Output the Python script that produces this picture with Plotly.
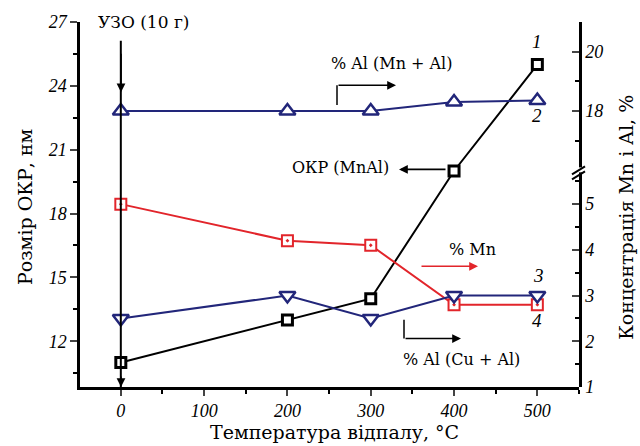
import plotly.graph_objects as go

# ---- data ----
temps = [0, 200, 300, 400, 500]
okr_size = [11.0, 13.0, 14.0, 20.0, 25.0]        # curve 1, left axis (nm)
al_mn_al = [18.0, 18.0, 18.0, 18.3, 18.35]        # curve 2, right upper axis (%)
al_cu_al = [2.5, 3.0, 2.5, 3.0, 3.0]              # curve 3, right lower axis (%)
mn_conc = [5.0, 4.2, 4.1, 2.8, 2.8]               # curve 4, right lower axis (%)

x_ticks = [0, 100, 200, 300, 400, 500]
left_ticks = [12, 15, 18, 21, 24, 27]
right_low_ticks = [1, 2, 3, 4, 5]
right_up_ticks = [18, 20]

NAVY = "#22267a"
RED = "#e2252b"
FONT = "DejaVu Serif"
IFONT = "Liberation Serif"

# plot-area geometry (pixels) used only to place annotations
L, R, T, B = 80, 579, 18, 387
X0, X1 = -49, 550
Y0, Y1 = 9.85, 27


def xd(px):
    return X0 + (px - L) / (R - L) * (X1 - X0)


def yd(py):
    return Y1 - (py - T) / (B - T) * (Y1 - Y0)


def xp(px):
    return (px - L) / (R - L)


def yp(py):
    return (B - py) / (B - T)


brk = yp(167)

fig = go.Figure()

fig.add_trace(go.Scatter(
    x=temps, y=al_mn_al, yaxis="y3", mode="lines+markers",
    line=dict(color=NAVY, width=2),
    marker=dict(symbol="triangle-up", size=14, color="white",
                line=dict(color=NAVY, width=2.5)),
    showlegend=False))
fig.add_trace(go.Scatter(
    x=temps, y=mn_conc, yaxis="y2", mode="lines+markers",
    line=dict(color=RED, width=2),
    marker=dict(symbol="square-dot", size=11, color="white",
                line=dict(color=RED, width=2)),
    showlegend=False))
fig.add_trace(go.Scatter(
    x=temps, y=al_cu_al, yaxis="y2", mode="lines+markers",
    line=dict(color=NAVY, width=2),
    marker=dict(symbol="triangle-down", size=14, color="white",
                line=dict(color=NAVY, width=2.5)),
    showlegend=False))
fig.add_trace(go.Scatter(
    x=temps, y=okr_size, yaxis="y", mode="lines+markers",
    line=dict(color="black", width=2),
    marker=dict(symbol="square", size=10, color="white",
                line=dict(color="black", width=3)),
    showlegend=False))

tickfont = dict(family=IFONT, size=18, color="black", style="italic")

fig.update_layout(
    width=640, height=446,
    margin=dict(l=L, r=640 - R, t=T, b=446 - B),
    paper_bgcolor="white", plot_bgcolor="rgba(0,0,0,0)",
    font=dict(family=FONT, size=15, color="black"),
    xaxis=dict(range=[X0, X1], tickvals=x_ticks, ticks="outside", ticklen=6,
               tickwidth=2, showline=True, linecolor="black", linewidth=2.5,
               showgrid=False, zeroline=False, tickfont=tickfont,
               minor=dict(dtick=50, tick0=0, ticks="outside", ticklen=4,
                          tickwidth=2, tickcolor="black")),
    yaxis=dict(range=[Y0, Y1], tickvals=left_ticks, ticks="outside", ticklen=7,
               tickwidth=2, showline=True, linecolor="black", linewidth=2.5,
               showgrid=False, zeroline=False, tickfont=tickfont,
               minor=dict(dtick=1.5, tick0=0, ticks="outside", ticklen=4,
                          tickwidth=2, tickcolor="black")),
    yaxis2=dict(domain=[0, brk], range=[1, 5.76], anchor="x", side="right",
                tickvals=right_low_ticks, ticks="inside", ticklen=7, tickwidth=2,
                showline=True, linecolor="black", linewidth=2.5, showgrid=False,
                zeroline=False, tickfont=tickfont,
                minor=dict(dtick=0.5, tick0=0, ticks="inside", ticklen=4,
                           tickwidth=2, tickcolor="black")),
    yaxis3=dict(domain=[brk, 1], range=[16.03, 21], anchor="x", side="right",
                tickvals=right_up_ticks, ticks="inside", ticklen=7, tickwidth=2,
                showline=True, linecolor="black", linewidth=2.5, showgrid=False,
                zeroline=False, tickfont=tickfont,
                minor=dict(dtick=1, tick0=0, ticks="inside", ticklen=4,
                           tickwidth=2, tickcolor="black")),
)

shapes = [
    # УЗО vertical line
    dict(type="line", xref="x", yref="y", x0=0, x1=0, y0=yd(37), y1=Y0,
         line=dict(color="black", width=2), layer="above"),
    # bent arrow stems
    dict(type="line", xref="x", yref="y", x0=xd(337), x1=xd(337), y0=yd(102), y1=yd(82),
         line=dict(color="black", width=1.5)),
    dict(type="line", xref="x", yref="y", x0=xd(404), x1=xd(404), y0=yd(319), y1=yd(338),
         line=dict(color="black", width=1.5)),
    # axis break marks
    dict(type="rect", xref="paper", yref="paper", x0=xp(576), x1=xp(582), y0=yp(170), y1=yp(165),
         fillcolor="white", line=dict(width=0)),
    dict(type="line", xref="paper", yref="paper", x0=xp(572), x1=xp(585), y0=yp(172), y1=yp(164),
         line=dict(color="black", width=2)),
    dict(type="line", xref="paper", yref="paper", x0=xp(572), x1=xp(585), y0=yp(177), y1=yp(169),
         line=dict(color="black", width=2)),
]
fig.update_layout(shapes=shapes)

ann = []


def text(px, py, s, size=15, italic=False, angle=0):
    if italic:
        f = dict(family=IFONT, size=size, color="black", style="italic")
    else:
        f = dict(family=FONT, size=size, color="black")
    ann.append(dict(x=xp(px), y=yp(py), xref="paper", yref="paper", text=s,
                    showarrow=False, font=f, textangle=angle,
                    xanchor="center", yanchor="middle"))


def arrow(tx, ty, ax, ay, color="black"):
    ann.append(dict(x=xd(tx), y=yd(ty), xref="x", yref="y", ax=ax, ay=ay,
                    text="", showarrow=True, arrowhead=2, arrowsize=1.1,
                    arrowwidth=1.6, arrowcolor=color))


text(143, 18, "УЗО (10 г)", 17)
arrow(121, 89, 0, -40)
arrow(121, 387, 0, -12)
text(537, 38, "1", 19, italic=True)
text(537, 113, "2", 19, italic=True)
text(538, 274, "3", 19, italic=True)
text(537, 320, "4", 19, italic=True)
text(391, 60, "% Al (Mn + Al)", 16)
arrow(396, 82, -59, 0)
text(340, 165, "ОКР (MnAl)", 16)
arrow(399, 167, 48, 0)
text(472, 248, "% Mn", 16)
arrow(478, 265, -58, 0, RED)
text(461, 359, "% Al (Cu + Al)", 16)
arrow(461, 338, -57, 0)
text(334, 432, "Температура відпалу, °С", 19)
text(25, 205, "Розмір ОКР, нм", 19, angle=-90)
text(626, 216, "Концентрація Mn і Al, %", 19, angle=-90)

fig.update_layout(annotations=ann)

fig.write_html("out.html")
